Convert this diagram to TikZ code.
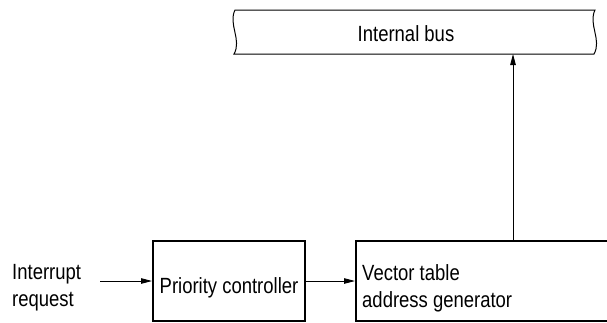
\documentclass[tikz,border=0pt]{standalone}
\usepackage{fontspec}
\setmainfont{Liberation Sans}[FakeStretch=0.84]
\usetikzlibrary{arrows.meta}
\begin{document}
\begin{tikzpicture}[x=1pt,y=-1pt,
  font=\fontsize{22}{27}\selectfont,
  box/.style={draw,line width=2pt,inner sep=0pt},
  txt/.style={inner sep=0pt},
  conn/.style={line width=0.9pt,-{Triangle[length=11pt,width=5.5pt]}}]
\useasboundingbox (0,0) rectangle (607,322);
\clip (0,0) rectangle (607,322);
% internal bus
\draw[line width=1pt] (235,10) -- (595,10) .. controls (588,24) and (602,40) .. (594,54)
  -- (234,54) .. controls (242,40) and (228,24) .. (235,10) -- cycle;
\node[txt,anchor=base] (bus) at (406,41) {Internal bus};
\coordinate (busin) at (513,54);
% boxes
\node[box,minimum width=152pt,minimum height=80pt] (pc) at (229,281) {};
\node[txt,anchor=base] (pct) at (229,293) {Priority controller};
\node[box,minimum width=314pt,minimum height=80pt] (vec) at (513,281) {};
\node[txt,align=left,anchor=west] (vect) at (362,288) {Vector table\\address generator};
% input
\node[txt,align=left,anchor=west] (ir) at (12,288) {Interrupt\\request};
\coordinate (irout) at (100,281);
% connectors
\draw[conn] (irout) -- (pc.west);
\draw[conn] (pc.east) -- (vec.west);
\draw[conn] (vec.north) -- (busin);
\end{tikzpicture}
\end{document}
